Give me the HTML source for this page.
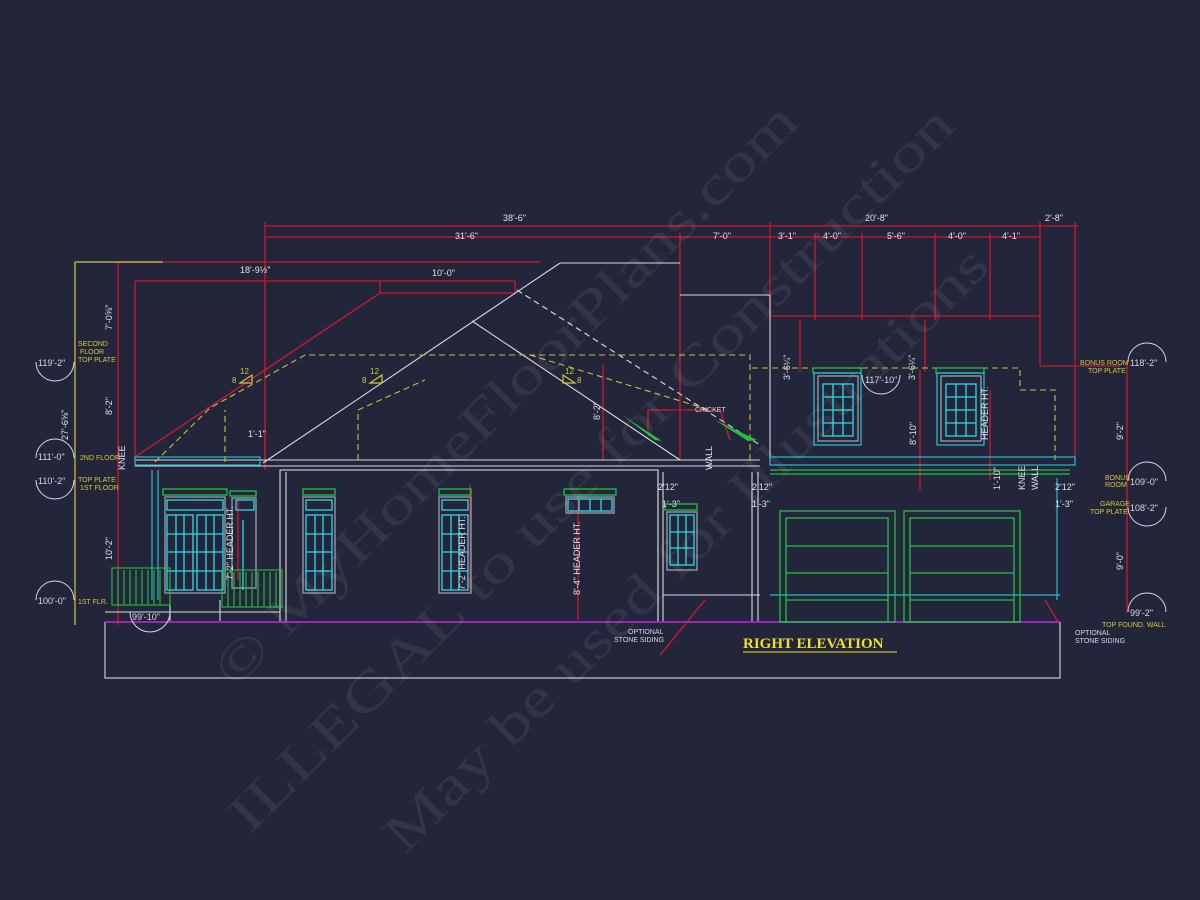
<!DOCTYPE html>
<html><head><meta charset="utf-8"><style>
html,body{margin:0;padding:0;background:#23263a;}
svg{display:block}
.s{font-family:"Liberation Sans",sans-serif;}
.w{font-family:"Liberation Serif",serif;}
</style></head><body>
<svg width="1200" height="900" viewBox="0 0 1200 900" xmlns="http://www.w3.org/2000/svg">
<rect width="1200" height="900" fill="#23263a"/>

<g stroke="#d0182e" stroke-width="1.3" fill="none">
<line x1="265" y1="226" x2="1078" y2="226"/>
<line x1="265" y1="237" x2="1040" y2="237"/>
<line x1="265" y1="222" x2="265" y2="460"/>
<line x1="680" y1="233" x2="680" y2="460"/>
<line x1="770" y1="222" x2="770" y2="320"/>
<line x1="815" y1="233" x2="815" y2="320"/>
<line x1="862" y1="233" x2="862" y2="320"/>
<line x1="935" y1="233" x2="935" y2="320"/>
<line x1="990" y1="233" x2="990" y2="320"/>
<line x1="1040" y1="222" x2="1040" y2="366"/>
<line x1="1040" y1="366" x2="1120" y2="366"/>
<line x1="1075" y1="222" x2="1075" y2="462"/>
<line x1="770" y1="316" x2="1040" y2="316"/>
<line x1="118" y1="262" x2="118" y2="625"/>
<line x1="118" y1="262" x2="540" y2="262"/>
<line x1="135" y1="281" x2="515" y2="281"/>
<line x1="135" y1="281" x2="135" y2="458"/>
<line x1="380" y1="281" x2="380" y2="293"/>
<line x1="515" y1="281" x2="515" y2="293"/>
<polyline points="135,457 380,293 515,293"/>
<line x1="265" y1="430" x2="265" y2="470"/>
<line x1="603" y1="365" x2="603" y2="460"/>
<line x1="800" y1="320" x2="800" y2="372"/>
<line x1="925" y1="320" x2="925" y2="372"/>
<line x1="920" y1="370" x2="920" y2="490"/>
<line x1="990" y1="390" x2="990" y2="480"/>
<line x1="1127" y1="362" x2="1127" y2="612"/>
<line x1="470" y1="485" x2="470" y2="592"/>
<line x1="578" y1="495" x2="578" y2="620"/>
<line x1="238" y1="500" x2="238" y2="580"/>
<polyline points="648,430 648,410 720,410 730,440"/>
<line x1="660" y1="655" x2="705" y2="600"/>
<line x1="1045" y1="600" x2="1060" y2="625"/>
</g>
<line x1="75" y1="262" x2="75" y2="625" stroke="#cfc83a" stroke-width="1.2"/>
<line x1="75" y1="262" x2="163" y2="262" stroke="#cfc83a" stroke-width="1.2"/>

<g stroke="#d8d8e0" stroke-width="1.1" fill="none">
<line x1="263" y1="463" x2="560" y2="263"/>
<line x1="560" y1="263" x2="680" y2="263"/>
<line x1="472" y1="321" x2="680" y2="460"/>
<line x1="680" y1="295" x2="770" y2="295"/>
<line x1="770" y1="295" x2="770" y2="462"/>
<line x1="517" y1="290" x2="760" y2="445" stroke-dasharray="6,4"/>
<line x1="135" y1="460" x2="760" y2="460"/>
<line x1="135" y1="466" x2="760" y2="466"/>
<rect x="280" y="470" width="378" height="152"/>
<line x1="286" y1="472" x2="286" y2="622"/>
<line x1="658" y1="472" x2="658" y2="622"/>
<line x1="663" y1="595" x2="760" y2="595"/>
<line x1="663" y1="472" x2="663" y2="622"/>
<line x1="752" y1="472" x2="752" y2="622"/>
<line x1="758" y1="472" x2="758" y2="622"/>
<rect x="105" y="622" width="955" height="56"/>
<line x1="105" y1="612" x2="280" y2="612"/>
<line x1="170" y1="600" x2="170" y2="622"/>
<line x1="220" y1="600" x2="220" y2="622"/>
</g>
<g stroke="#c8c040" stroke-width="1.1" fill="none" stroke-dasharray="6,4">
<polyline points="155,462 210,408 305,355 750,355 750,462"/>
<polyline points="225,462 225,410"/>
<polyline points="358,460 358,410 425,380"/>
<line x1="530" y1="355" x2="710" y2="410"/>
<polyline points="752,368 1020,368 1020,390 1055,390 1055,460"/>
</g>
<g fill="none" stroke-width="1.2">
<rect x="135" y="457" width="125" height="8" stroke="#2ab8c8"/>
<rect x="770" y="457" width="305" height="8" stroke="#2ab8c8"/>
<line x1="770" y1="470" x2="1070" y2="470" stroke="#22c040"/>
<line x1="770" y1="474" x2="1070" y2="474" stroke="#22c040"/>
<line x1="152" y1="470" x2="152" y2="600" stroke="#2ab8c8"/>
<line x1="158" y1="470" x2="158" y2="600" stroke="#2ab8c8"/>
<line x1="1057" y1="478" x2="1057" y2="600" stroke="#2ab8c8"/>
<line x1="770" y1="595" x2="1060" y2="595" stroke="#2ab8c8"/>
</g>
<line x1="105" y1="622" x2="1060" y2="622" stroke="#a020c0" stroke-width="2"/>

<g fill="none" stroke-width="1.3">
<g stroke="#22c040"><rect x="163" y="489" width="64" height="6"/><rect x="303" y="489" width="32" height="6"/><rect x="439" y="489" width="32" height="6"/><rect x="564" y="489" width="52" height="6"/><rect x="230" y="491" width="26" height="5"/><rect x="665" y="504" width="32" height="6"/><rect x="813" y="368" width="48" height="5"/><rect x="936" y="368" width="48" height="5"/></g>
<g stroke="#9aa0a8"><rect x="165" y="497" width="60" height="96"/><rect x="303" y="497" width="32" height="96"/><rect x="439" y="497" width="32" height="96"/><rect x="566" y="497" width="48" height="16"/><rect x="667" y="512" width="30" height="58"/><rect x="818" y="376" width="40" height="65"/><rect x="941" y="376" width="40" height="65"/><rect x="232" y="498" width="24" height="90"/></g>
<g stroke="#30d8e8">
<rect x="167" y="515" width="26" height="75"/><rect x="197" y="515" width="26" height="75"/>
<line x1="176" y1="515" x2="176" y2="590"/><line x1="184" y1="515" x2="184" y2="590"/><line x1="206" y1="515" x2="206" y2="590"/><line x1="214" y1="515" x2="214" y2="590"/>
<line x1="167" y1="534" x2="223" y2="534"/><line x1="167" y1="552" x2="223" y2="552"/><line x1="167" y1="571" x2="223" y2="571"/>
<rect x="167" y="500" width="56" height="10"/>
<rect x="306" y="515" width="26" height="75"/><line x1="315" y1="515" x2="315" y2="590"/><line x1="323" y1="515" x2="323" y2="590"/>
<line x1="306" y1="534" x2="332" y2="534"/><line x1="306" y1="552" x2="332" y2="552"/><line x1="306" y1="571" x2="332" y2="571"/><rect x="306" y="500" width="26" height="10"/>
<rect x="442" y="515" width="26" height="75"/><line x1="451" y1="515" x2="451" y2="590"/><line x1="459" y1="515" x2="459" y2="590"/>
<line x1="442" y1="534" x2="468" y2="534"/><line x1="442" y1="552" x2="468" y2="552"/><line x1="442" y1="571" x2="468" y2="571"/><rect x="442" y="500" width="26" height="10"/>
<rect x="568" y="499" width="44" height="12"/><line x1="579" y1="499" x2="579" y2="511"/><line x1="590" y1="499" x2="590" y2="511"/><line x1="601" y1="499" x2="601" y2="511"/>
<rect x="670" y="515" width="24" height="50"/><line x1="678" y1="515" x2="678" y2="565"/><line x1="686" y1="515" x2="686" y2="565"/><line x1="670" y1="532" x2="694" y2="532"/><line x1="670" y1="548" x2="694" y2="548"/>
<rect x="823" y="384" width="30" height="52"/><line x1="833" y1="384" x2="833" y2="436"/><line x1="843" y1="384" x2="843" y2="436"/><line x1="823" y1="397" x2="853" y2="397"/><line x1="823" y1="410" x2="853" y2="410"/><line x1="823" y1="423" x2="853" y2="423"/>
<rect x="946" y="384" width="30" height="52"/><line x1="956" y1="384" x2="956" y2="436"/><line x1="966" y1="384" x2="966" y2="436"/><line x1="946" y1="397" x2="976" y2="397"/><line x1="946" y1="410" x2="976" y2="410"/><line x1="946" y1="423" x2="976" y2="423"/>
<line x1="243" y1="520" x2="243" y2="590"/><rect x="236" y="500" width="18" height="10"/>
</g>
<g stroke="#2ab8c8"><rect x="814" y="373" width="47" height="72"/><rect x="937" y="373" width="47" height="72"/></g>
</g>
<g stroke="#22c040" fill="none" stroke-width="1.1">
<rect x="112" y="568" width="58" height="37"/><rect x="222" y="570" width="60" height="37"/>
<path d="M118 570v35M124 570v35M130 570v35M136 570v35M142 570v35M148 570v35M154 570v35M160 570v35M228 572v35M234 572v35M240 572v35M246 572v35M252 572v35M258 572v35M264 572v35M270 572v35M276 572v35"/>
</g>
<g stroke="#22c040" fill="none" stroke-width="1.3">
<rect x="780" y="511" width="115" height="111"/><rect x="786" y="518" width="102" height="104"/>
<line x1="786" y1="546" x2="888" y2="546"/><line x1="786" y1="573" x2="888" y2="573"/><line x1="786" y1="600" x2="888" y2="600"/>
<rect x="904" y="511" width="116" height="111"/><rect x="910" y="518" width="104" height="104"/>
<line x1="910" y1="546" x2="1014" y2="546"/><line x1="910" y1="573" x2="1014" y2="573"/><line x1="910" y1="600" x2="1014" y2="600"/>
</g>
<path d="M622 415 L662 441 L655 440 Z" fill="#22c040"/>
<path d="M715 420 L757 440 L748 441 Z" fill="#22c040"/>

<g fill="none" stroke="#cfc83a" stroke-width="1.2">
<path d="M240 383 L252 375 L252 383 Z"/><path d="M370 383 L382 375 L382 383 Z"/><path d="M563 375 L575 383 L563 383 Z"/>
</g>
<g class="s" fill="#cfc83a" font-size="8"><text x="240" y="374">12</text><text x="232" y="383">8</text><text x="370" y="374">12</text><text x="362" y="383">8</text><text x="565" y="374">12</text><text x="577" y="383">8</text></g>

<g fill="none" stroke="#d8d8e0" stroke-width="1">
<path d="M36 362 A19 19 0 0 0 74 362"/>
<path d="M36 458 A19 19 0 0 1 74 458"/>
<path d="M36 480 A19 19 0 0 0 74 480"/>
<path d="M36 600 A19 19 0 0 1 74 600"/>
<path d="M130 612 A19 19 0 0 0 170 612"/>
<path d="M1128 362 A19 19 0 0 1 1166 362"/>
<path d="M1128 481 A19 19 0 0 1 1166 481"/>
<path d="M1128 507 A19 19 0 0 0 1166 507"/>
<path d="M1128 612 A19 19 0 0 1 1166 612"/>
<path d="M862 375 A18 18 0 0 0 900 375"/>
</g>
<g class="s" fill="#d8d8e0" font-size="9">
<text x="38" y="366">119'-2"</text><text x="38" y="460">111'-0"</text><text x="38" y="484">110'-2"</text><text x="38" y="604">100'-0"</text>
<text x="132" y="620">99'-10"</text><text x="865" y="383">117'-10"</text>
<text x="1130" y="366">118'-2"</text><text x="1130" y="485">109'-0"</text><text x="1130" y="511">108'-2"</text><text x="1130" y="616">99'-2"</text>
</g>
<g class="s" fill="#cfc83a" font-size="7">
<text x="78" y="346">SECOND</text><text x="80" y="354">FLOOR</text><text x="78" y="362">TOP PLATE</text>
<text x="80" y="460">2ND FLOOR</text><text x="78" y="482">TOP PLATE</text><text x="80" y="490">1ST FLOOR</text>
<text x="78" y="604">1ST FLR.</text>
<text x="1080" y="365">BONUS ROOM</text><text x="1088" y="373">TOP PLATE</text>
<text x="1105" y="480">BONUS</text><text x="1105" y="487">ROOM</text>
<text x="1100" y="506">GARAGE</text><text x="1090" y="514">TOP PLATE</text>
<text x="1102" y="627">TOP FOUND. WALL</text>
</g>

<g class="s" fill="#e0e0e8" font-size="9">
<text x="503" y="221">38'-6"</text><text x="865" y="221">20'-8"</text><text x="1045" y="221">2'-8"</text>
<text x="455" y="239">31'-6"</text><text x="713" y="239">7'-0"</text><text x="778" y="239">3'-1"</text><text x="823" y="239">4'-0"</text><text x="887" y="239">5'-6"</text><text x="948" y="239">4'-0"</text><text x="1002" y="239">4'-1"</text>
<text x="240" y="273">18'-9½"</text><text x="432" y="276">10'-0"</text><text x="248" y="437">1'-1"</text>
<text x="752" y="490">2'12"</text><text x="752" y="507">1'-3"</text><text x="1055" y="490">2'12"</text><text x="1055" y="507">1'-3"</text>
<text x="658" y="490">2'12"</text><text x="662" y="507">1'-3"</text>
</g>
<g class="s" fill="#e0e0e8" font-size="9">
<text transform="translate(112,330) rotate(-90)">7'-0⅝"</text>
<text transform="translate(112,415) rotate(-90)">8'-2"</text>
<text transform="translate(112,560) rotate(-90)">10'-2"</text>
<text transform="translate(68,440) rotate(-90)">27'-6⅝"</text>
<text transform="translate(233,580) rotate(-90)">7'-2" HEADER HT.</text>
<text transform="translate(465,590) rotate(-90)">7'-2" HEADER HT.</text>
<text transform="translate(580,595) rotate(-90)">8'-4" HEADER HT.</text>
<text transform="translate(600,420) rotate(-90)">8'-2"</text>
<text transform="translate(790,380) rotate(-90)">3'-6¼"</text>
<text transform="translate(915,380) rotate(-90)">3'-6¼"</text>
<text transform="translate(916,445) rotate(-90)">8'-10"</text>
<text transform="translate(988,440) rotate(-90)">HEADER HT.</text>
<text transform="translate(1000,490) rotate(-90)">1'-10"</text>
<text transform="translate(1123,440) rotate(-90)">9'-2"</text>
<text transform="translate(1123,570) rotate(-90)">9'-0"</text>
<text transform="translate(125,470) rotate(-90)">KNEE</text>
<text transform="translate(712,470) rotate(-90)">WALL</text>
<text transform="translate(1025,490) rotate(-90)">KNEE</text>
<text transform="translate(1038,490) rotate(-90)">WALL</text>
</g>
<g class="s" fill="#d8d8e0" font-size="7">
<text x="695" y="412">CRICKET</text>
<text x="628" y="634">OPTIONAL</text><text x="614" y="642">STONE SIDING</text>
<text x="1075" y="635">OPTIONAL</text><text x="1075" y="643">STONE SIDING</text>
</g>
<text x="743" y="648" class="w" fill="#f0e020" font-size="15" font-weight="bold">RIGHT ELEVATION</text>
<line x1="743" y1="652" x2="897" y2="652" stroke="#f0e020" stroke-width="1"/>

<g class="w" fill="#ffffff" fill-opacity="0.07" font-size="54">
<text transform="translate(235,690) rotate(-45)" textLength="800" lengthAdjust="spacingAndGlyphs">© MyHomeFloorPlans.com</text>
<text transform="translate(250,835) rotate(-45)" textLength="1000" lengthAdjust="spacingAndGlyphs">ILLEGAL to use for Construction</text>
<text transform="translate(405,855) rotate(-45)" textLength="830" lengthAdjust="spacingAndGlyphs">May be used for Illustrations</text>
</g>
</svg>
</body></html>
